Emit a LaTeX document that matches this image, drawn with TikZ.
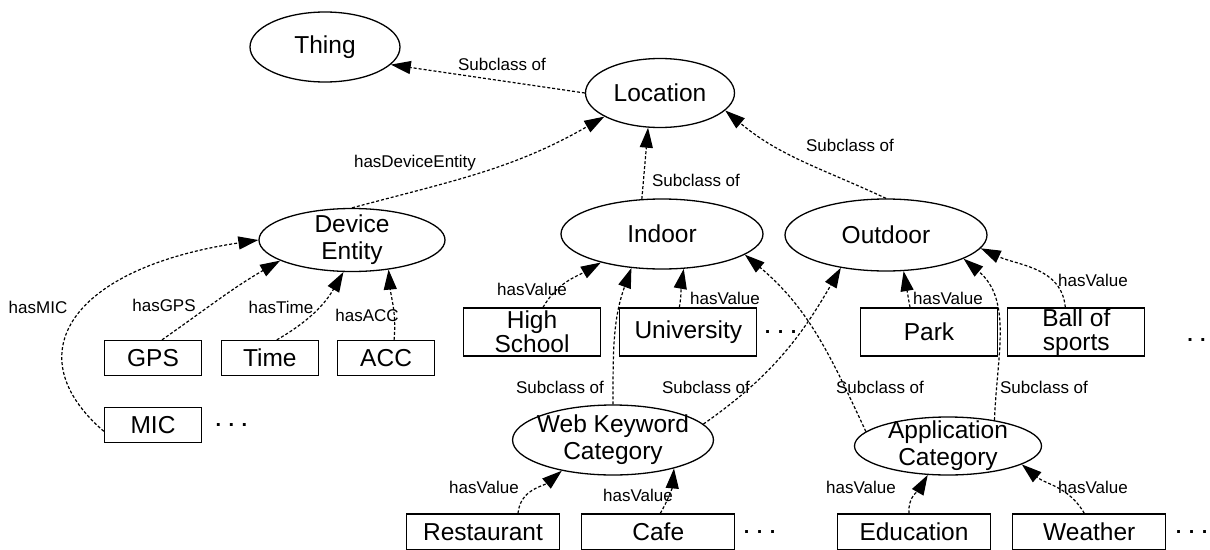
\documentclass[tikz,border=0pt]{standalone}
\usepackage{fontspec}
\setmainfont{Liberation Sans}
\usetikzlibrary{shapes.geometric, arrows.meta, positioning}

\tikzset{
  concept/.style={ellipse, draw, line width=1.3pt, inner sep=-5pt, align=center,
    font=\fontsize{24.5}{27}\selectfont},
  valbox/.style={rectangle, draw, line width=1.3pt, inner sep=0pt, align=center,
    minimum width=97pt, minimum height=35pt, font=\fontsize{24.5}{24}\selectfont},
  bigbox/.style={valbox, minimum width=137pt, minimum height=48pt},
  widebox/.style={valbox, minimum width=153pt, minimum height=36pt},
  etc/.style={font=\fontsize{20}{20}\selectfont\bfseries},
  link/.style={line width=1.2pt, dash pattern=on 3pt off 2pt,
    -{Triangle[length=20pt,width=13pt]}},
  role/.style={font=\fontsize{17}{19}\selectfont, inner sep=0pt}
}

\begin{document}
\begin{tikzpicture}[x=1pt, y=1pt, node distance=18pt]
\useasboundingbox (0,0) rectangle (1210,-549);

% classes
\node[concept, minimum width=150pt, minimum height=70pt] (thing) at (325,-47) {Thing};
\node[concept, minimum width=149pt, minimum height=69pt] (loc) at (660,-93) {Location};
\node[concept, minimum width=186pt, minimum height=63pt] (de) at (352,-240) {Device\\Entity};
\node[concept, minimum width=202pt, minimum height=70pt] (idr) at (662,-234) {Indoor};
\node[concept, minimum width=202pt, minimum height=72pt] (odr) at (886,-235) {Outdoor};
\node[concept, minimum width=200pt, minimum height=70pt] (wk) at (613,-440) {Web Keyword\\Category};
\node[concept, minimum width=187pt, minimum height=58pt] (ac) at (948,-446) {Application\\Category};

% device values
\node[valbox] (gps) at (153,-358) {GPS};
\node[valbox, right=18.5pt of gps] (time) {Time};
\node[valbox, right=18pt of time] (acc) {ACC};
\node[valbox, below=31pt of gps] (mic) {MIC};
\node[etc, right=10pt of mic] (micdots) {. . .};

% location values
\node[bigbox] (hs) at (532,-332) {High\\School};
\node[bigbox, right=18pt of hs] (univ) {University};
\node[etc, right=4pt of univ] (univdots) {. . .};
\node[bigbox] (park) at (929,-332) {Park};
\node[bigbox, right=9pt of park] (ball) {Ball of\\sports};
\node[etc] (balldots) at (1203,-340) {. . .};

% category values
\node[widebox] (rest) at (483,-532) {Restaurant};
\node[widebox, right=21pt of rest] (cafe) {Cafe};
\node[etc, right=5pt of cafe] (cafedots) {. . .};
\node[widebox] (edu) at (914,-532) {Education};
\node[widebox, right=21pt of edu] (weather) {Weather};
\node[etc, right=6pt of weather] (weatherdots) {. . .};

% subclass links
\draw[link] (loc.west) -- (thing.-15);
\draw[link] (de.north) to[out=15, in=-150] (loc.-157);
\draw[link] (idr.120) -- (loc.-109);
\draw[link] (odr.north) to[out=155, in=-40] (loc.-15);
\draw[link] (wk.north) to[out=90, in=-110] (idr.-132);
\draw[link] (wk.10) to[out=35, in=-120] (odr.-144);
\draw[link] (ac.170) to[out=115, in=-40] (idr.-14);
\draw[link] (ac.29) to[out=88, in=-40] (odr.-17);

% device links
\draw[link] ([yshift=-6pt]mic.west) .. controls (15,-355) and (70,-268) .. (de.west);
\draw[link] ([xshift=9pt]gps.north) to[out=35, in=-150] (de.-164);
\draw[link] ([xshift=7pt]time.north) to[out=30, in=-120] (de.-105);
\draw[link] ([xshift=8pt]acc.north) to[out=85, in=-85] (de.-39);

% value links
\draw[link] ([xshift=11pt]hs.north) to[out=60, in=-150] (idr.-155);
\draw[link] ([xshift=-9pt]univ.north) to[out=80, in=-100] (idr.-58);
\draw[link] ([xshift=-19pt]park.north) -- (odr.-64);
\draw[link] ([xshift=-11pt]ball.north) to[out=95, in=-25] (odr.-8);
\draw[link] ([xshift=35pt]rest.north) to[out=85, in=-140] (wk.-149);
\draw[link] ([xshift=2pt]cafe.north) to[out=60, in=-95] (wk.-25);
\draw[link] ([xshift=-5pt]edu.north) to[out=95, in=-120] (ac.-125);
\draw[link] ([xshift=-5pt]weather.north) to[out=120, in=-40] (ac.-14);

% link labels
\node[role] (lthing) at (502,-64) {Subclass of};
\node[role] (lde) at (415,-163) {hasDeviceEntity};
\node[role] (lidr) at (696,-180) {Subclass of};
\node[role] (lodr) at (850,-145) {Subclass of};
\node[role] (lmic) at (38,-307) {hasMIC};
\node[role] (lgps) at (164,-305) {hasGPS};
\node[role] (ltime) at (281,-307) {hasTime};
\node[role] (lacc) at (367,-315) {hasACC};
\node[role] (lhs) at (532,-289) {hasValue};
\node[role] (luniv) at (725,-298) {hasValue};
\node[role] (lpark) at (948,-298) {hasValue};
\node[role] (lball) at (1093,-280) {hasValue};
\node[role] (lwkin) at (560,-387) {Subclass of};
\node[role] (lwkout) at (706,-387) {Subclass of};
\node[role] (lacin) at (880,-387) {Subclass of};
\node[role] (lacout) at (1044,-387) {Subclass of};
\node[role] (lrest) at (484,-487) {hasValue};
\node[role] (lcafe) at (638,-495) {hasValue};
\node[role] (ledu) at (861,-487) {hasValue};
\node[role] (lweather) at (1093,-487) {hasValue};
\end{tikzpicture}
\end{document}
